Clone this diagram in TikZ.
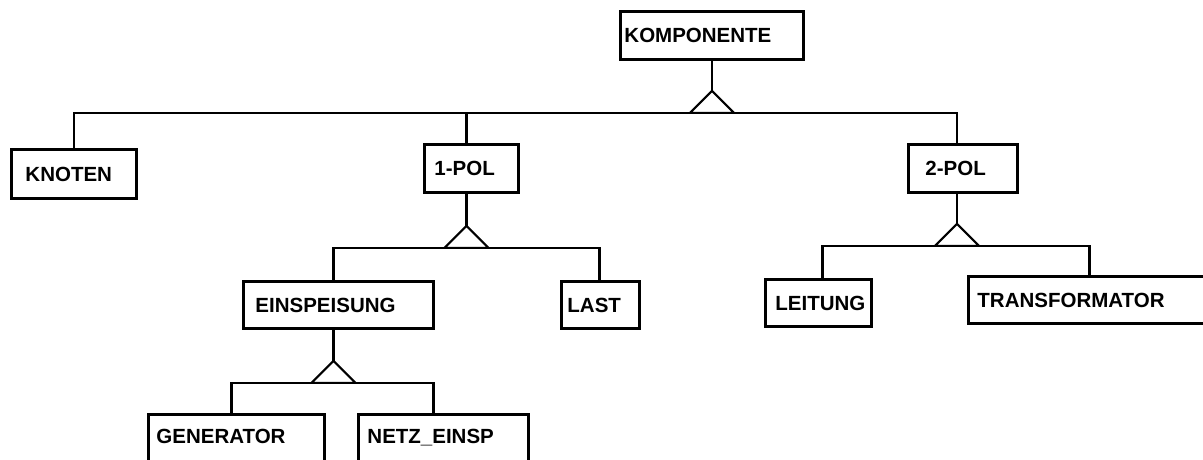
\documentclass[tikz,border=0pt]{standalone}
\usepackage{fontspec}
\setmainfont{Liberation Sans}
\usetikzlibrary{calc}

\tikzset{
  ent/.style={draw, line width=2.9pt, anchor=north west, inner xsep=0pt,
    inner ysep=0pt, align=left, font=\bfseries\fontsize{20.5}{24}\selectfont},
  cutbox/.style={text height=29pt, text depth=34pt},
  link/.style={line width=2.1pt, line join=miter},
}

% generalisation: parent stem (x shift #2, length #3), triangle, bus,
% and drops to the left child #4 (x shift #5) and right child #6 (x shift #7)
\newcommand{\isa}[7]{%
  \draw[link] ($(#1.south)+(#2,0)$) -- ++(0,#3) coordinate (#1apex);
  \draw[link] (#1apex) -- ++(-22,22) -- ++(44,0) -- cycle;
  \coordinate (#1bus) at ($(#1apex)+(0,22)$);
  \draw[link] ($(#4.north)+(#5,0)$) |- (#1bus) -| ($(#6.north)+(#7,0)$);
}

\begin{document}
\begin{tikzpicture}[x=1pt, y=-1pt]
  \useasboundingbox (0,0) rectangle (1203,460);
  \clip (0,0) rectangle (1203,460);

  % entity boxes
  \node[ent, text width=183pt, minimum height=48pt] (komp) at (619,10)
    {\hspace*{4pt}KOMPONENTE};
  \node[ent, text width=125pt, minimum height=49pt] (knoten) at (10,148)
    {\hspace*{14pt}KNOTEN};
  \node[ent, text width=94pt, minimum height=48pt] (pol1) at (423,143)
    {\hspace*{10pt}1-POL};
  \node[ent, text width=109pt, minimum height=48pt] (pol2) at (907,143)
    {\hspace*{17pt}2-POL};
  \node[ent, text width=190pt, minimum height=47pt] (einsp) at (242,280)
    {\hspace*{12pt}EINSPEISUNG};
  \node[ent, text width=78pt, minimum height=47pt] (last) at (560,280)
    {\hspace*{6pt}LAST};
  \node[ent, text width=106pt, minimum height=47pt] (leit) at (764,278)
    {\hspace*{10pt}LEITUNG};
  \node[ent, text width=242pt, minimum height=47pt] (trafo) at (967,275)
    {\hspace*{9pt}TRANSFORMATOR};
  \node[ent, cutbox, text width=176pt] (gen) at (147,413)
    {\hspace*{8pt}GENERATOR};
  \node[ent, cutbox, text width=170pt] (netz) at (357,413)
    {\hspace*{9pt}NETZ\_EINSP};

  % generalisation links
  \isa{komp}{0}{30}{knoten}{0}{pol2}{-6}
  \draw[link] ($(pol1.north)+(-5,0)$) -- ($(pol1.north |- kompbus)+(-5,0)$);
  \isa{pol1}{-5}{32}{einsp}{-5}{last}{-1}
  \isa{pol2}{-6}{30}{leit}{4}{trafo}{0}
  \isa{einsp}{-5}{31}{gen}{-5}{netz}{-10}
\end{tikzpicture}
\end{document}
